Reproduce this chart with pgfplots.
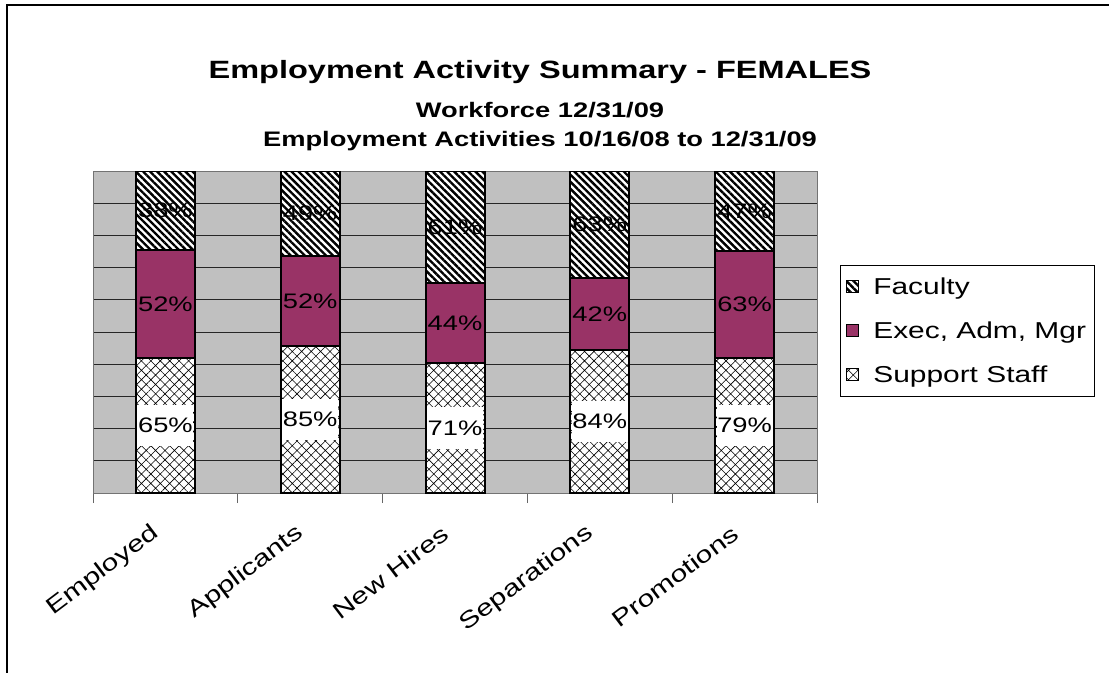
\documentclass[border=0pt]{standalone}
\usepackage{pgfplots}
\pgfplotsset{compat=1.18}
\usepackage{pgfplotstable}
\usepackage{fontspec}
\setmainfont[FakeStretch=1.3]{Liberation Sans}
\usetikzlibrary{patterns.meta}
\definecolor{plum}{HTML}{993366}
\definecolor{plotgray}{HTML}{C0C0C0}

% segment heights (share of the column) and the printed female percentages
\pgfplotstableread{
x sup supL exe exeL fac facL
0 41.94 65 33.55 52 24.51 38
1 45.70 85 27.96 52 26.34 49
2 40.34 71 25.00 44 34.66 61
3 44.44 84 22.22 42 33.34 63
4 41.80 79 33.33 63 24.87 47
}\datatable

\begin{document}
\begin{tikzpicture}[x=0.75pt,y=0.75pt]
\draw[line width=1.5pt] (7,-10) -- (7,667) -- (1130,667);
\node[font=\bfseries\fontsize{18.75}{22}\selectfont] at (540,600) {Employment Activity Summary - FEMALES};
\node[font=\bfseries\fontsize{15.75}{18}\selectfont] at (540,562) {Workforce 12/31/09};
\node[font=\bfseries\fontsize{15.75}{18}\selectfont] at (540,531) {Employment Activities 10/16/08 to 12/31/09};
\begin{axis}[
  at={(69.75pt,134.25pt)}, anchor=south west,
  scale only axis, width=543pt, height=241.5pt,
  ybar stacked, bar width=44.25pt,
  xmin=-0.5, xmax=4.5, ymin=0, ymax=100,
  ytick={0,10,...,100}, yticklabels={},
  ymajorgrids, major grid style={black!85, line width=0.75pt},
  axis background/.style={fill=plotgray},
  axis line style={draw=black!55, line width=0.75pt},
  xtick={0,1,2,3,4},
  xticklabels={Employed,Applicants,New Hires,Separations,Promotions},
  minor xtick={-0.5,0.5,1.5,2.5,3.5,4.5},
  major tick length=0pt, minor tick length=7.5pt,
  tick align=outside, xtick pos=bottom, ytick pos=left,
  minor tick style={draw=black!60, line width=0.75pt},
  x tick label style={xshift=-6.75pt, yshift=-28pt, rotate=37, anchor=east, inner sep=0pt,
     font=\fontsize{17.25}{20}\selectfont},
  point meta=explicit symbolic,
  nodes near coords={\pgfplotspointmeta\%},
  every node near coord/.append style={anchor=center,
     font=\fontsize{15.75}{18}\selectfont, text=black},
  legend style={at={(1.0318,0.708)}, anchor=north west, draw=black,
     line width=0.75pt, font=\fontsize{17.25}{20}\selectfont,
     row sep=15pt, inner xsep=4pt, inner ysep=7pt,
     /tikz/every odd column/.append style={column sep=9pt}},
  legend cell align=left, reverse legend,
  legend image code/.code={\draw[#1, draw=black, line width=0.6pt] (1pt,-4.5pt) rectangle (10pt,4.5pt);},
]
\addplot[draw=black, line width=1.5pt, fill=white,
   postaction={pattern={Hatch[angle=45, distance=5pt, line width=0.45pt]}},
   every node near coord/.append style={fill=white, minimum width=42pt, minimum height=31pt, inner sep=0pt}]
   table[x=x, y=sup, meta=supL] {\datatable};
\addlegendentry{Support Staff}
\addplot[draw=black, line width=1.5pt, fill=plum]
   table[x=x, y=exe, meta=exeL] {\datatable};
\addlegendentry{Exec, Adm, Mgr}
\addplot[draw=black, line width=1.5pt, fill=white,
   postaction={pattern={Lines[angle=-45, distance=3.75pt, line width=1.8pt]}}]
   table[x=x, y=fac, meta=facL] {\datatable};
\addlegendentry{Faculty}
\end{axis}
\pgfresetboundingbox
\useasboundingbox (0,0) rectangle (1109,672);
\end{tikzpicture}
\end{document}
